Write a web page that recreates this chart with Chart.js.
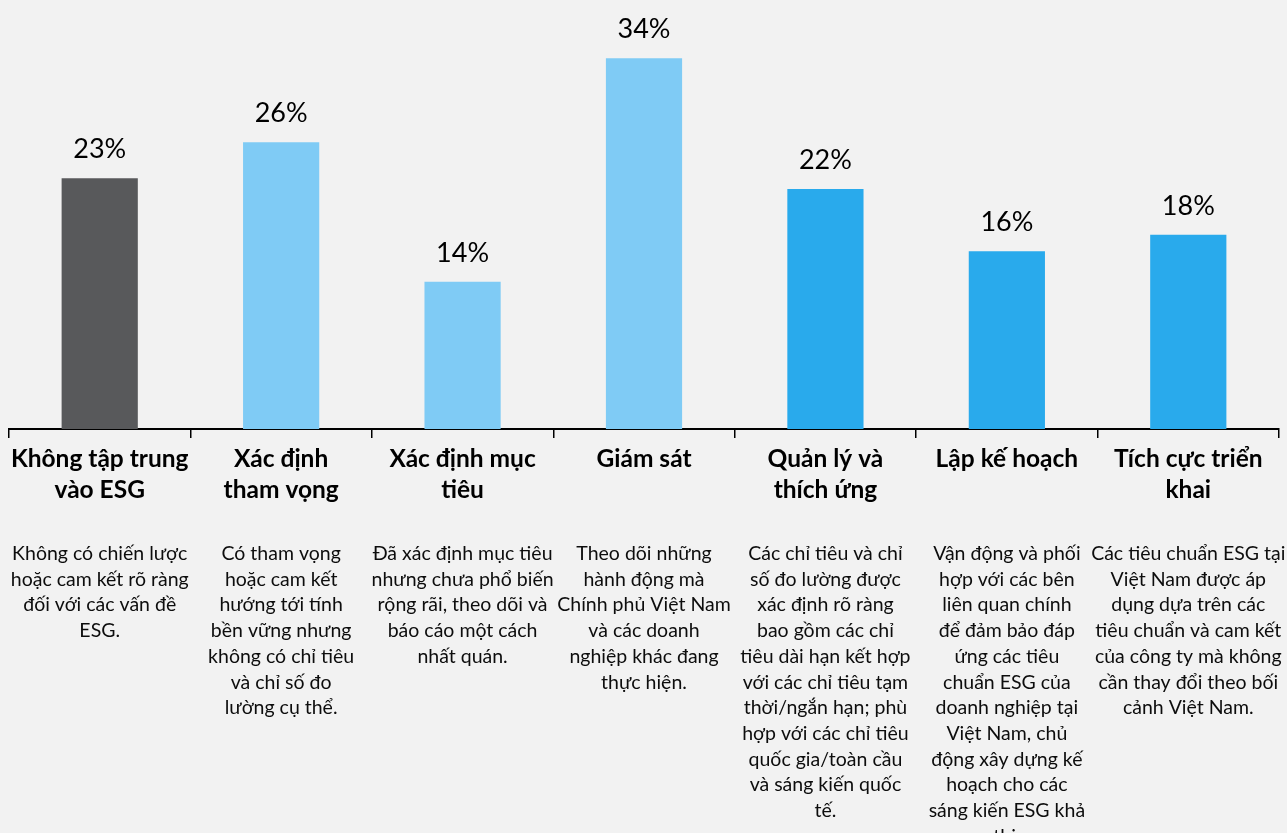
<!DOCTYPE html>
<html>
<head>
<meta charset="utf-8">
<script src="https://cdn.jsdelivr.net/npm/chart.js@4"></script>
<style>
  html, body { margin: 0; padding: 0; background: #F2F2F2; }
  #wrap { width: 1287px; height: 833px; position: relative; }
</style>
</head>
<body>
<div id="wrap"><canvas id="c"></canvas></div>
<script>
const categories = [
  ['Không tập trung', 'vào ESG'],
  ['Xác định', 'tham vọng'],
  ['Xác định mục', 'tiêu'],
  ['Giám sát'],
  ['Quản lý và', 'thích ứng'],
  ['Lập kế hoạch'],
  ['Tích cực triển', 'khai']
];
const values = [23.0, 26.3, 13.5, 34.0, 22.0, 16.3, 17.8];
const valueLabels = ['23%', '26%', '14%', '34%', '22%', '16%', '18%'];
const descriptions = [
  ['Không có chiến lược', 'hoặc cam kết rõ ràng', 'đối với các vấn đề', 'ESG.'],
  ['Có tham vọng', 'hoặc cam kết', 'hướng tới tính', 'bền vững nhưng', 'không có chỉ tiêu', 'và chỉ số đo', 'lường cụ thể.'],
  ['Đã xác định mục tiêu', 'nhưng chưa phổ biến', 'rộng rãi, theo dõi và', 'báo cáo một cách', 'nhất quán.'],
  ['Theo dõi những', 'hành động mà', 'Chính phủ Việt Nam', 'và các doanh', 'nghiệp khác đang', 'thực hiện.'],
  ['Các chỉ tiêu và chỉ', 'số đo lường được', 'xác định rõ ràng', 'bao gồm các chỉ', 'tiêu dài hạn kết hợp', 'với các chỉ tiêu tạm', 'thời/ngắn hạn; phù', 'hợp với các chỉ tiêu', 'quốc gia/toàn cầu', 'và sáng kiến quốc', 'tế.'],
  ['Vận động và phối', 'hợp với các bên', 'liên quan chính', 'để đảm bảo đáp', 'ứng các tiêu', 'chuẩn ESG của', 'doanh nghiệp tại', 'Việt Nam, chủ', 'động xây dựng kế', 'hoạch cho các', 'sáng kiến ESG khả', 'thi.'],
  ['Các tiêu chuẩn ESG tại', 'Việt Nam được áp', 'dụng dựa trên các', 'tiêu chuẩn và cam kết', 'của công ty mà không', 'cần thay đổi theo bối', 'cảnh Việt Nam.']
];
const barColors = ['#58595B', '#7FCBF5', '#7FCBF5', '#7FCBF5', '#29AAEC', '#29AAEC', '#29AAEC'];

const bgPlugin = {
  id: 'bg',
  beforeDraw(chart) {
    const ctx = chart.ctx;
    ctx.save();
    ctx.fillStyle = '#F2F2F2';
    ctx.fillRect(0, 0, chart.width, chart.height);
    ctx.restore();
  }
};

const labelPlugin = {
  id: 'valueLabels',
  afterDatasetsDraw(chart) {
    const ctx = chart.ctx;
    const meta = chart.getDatasetMeta(0);
    ctx.save();
    ctx.font = '27px Lato';
    ctx.fillStyle = '#000';
    ctx.textAlign = 'center';
    ctx.textBaseline = 'alphabetic';
    meta.data.forEach((bar, i) => {
      ctx.fillText(valueLabels[i], bar.x, bar.y - 20);
    });
    ctx.restore();
  }
};

const descPlugin = {
  id: 'descriptions',
  afterDraw(chart) {
    const ctx = chart.ctx;
    const xs = chart.scales.x;
    ctx.save();
    ctx.font = '19.5px Lato';
    ctx.fillStyle = '#0d0d0d';
    ctx.textAlign = 'center';
    ctx.textBaseline = 'alphabetic';
    const base = chart.chartArea.bottom + 131;
    descriptions.forEach((lines, i) => {
      const x = xs.getPixelForValue(i);
      lines.forEach((ln, j) => {
        ctx.fillText(ln, x, base + j * 25.7);
      });
    });
    ctx.restore();
  }
};

new Chart(document.getElementById('c'), {
  type: 'bar',
  data: {
    labels: categories,
    datasets: [{
      data: values,
      backgroundColor: barColors,
      borderWidth: 0,
      barPercentage: 0.42,
      categoryPercentage: 1.0
    }]
  },
  options: {
    responsive: true,
    maintainAspectRatio: false,
    animation: false,
    layout: { padding: { left: 9, right: 8, top: 20, bottom: 0 } },
    plugins: { legend: { display: false }, tooltip: { enabled: false } },
    scales: {
      x: {
        grid: {
          offset: true,
          drawOnChartArea: false,
          drawTicks: true,
          tickLength: 9,
          color: '#000',
          lineWidth: 1.5
        },
        border: { display: true, color: '#000', width: 2 },
        ticks: {
          color: '#000',
          font: { family: 'Lato', size: 24.5, weight: 'bold', lineHeight: 31 / 24.5 },
          padding: 6,
          autoSkip: false,
          maxRotation: 0,
          minRotation: 0
        },
        afterFit(scale) { scale.height = 404; }
      },
      y: {
        display: false,
        min: 0,
        max: 37.5
      }
    }
  },
  plugins: [bgPlugin, labelPlugin, descPlugin]
});
</script>
</body>
</html>
